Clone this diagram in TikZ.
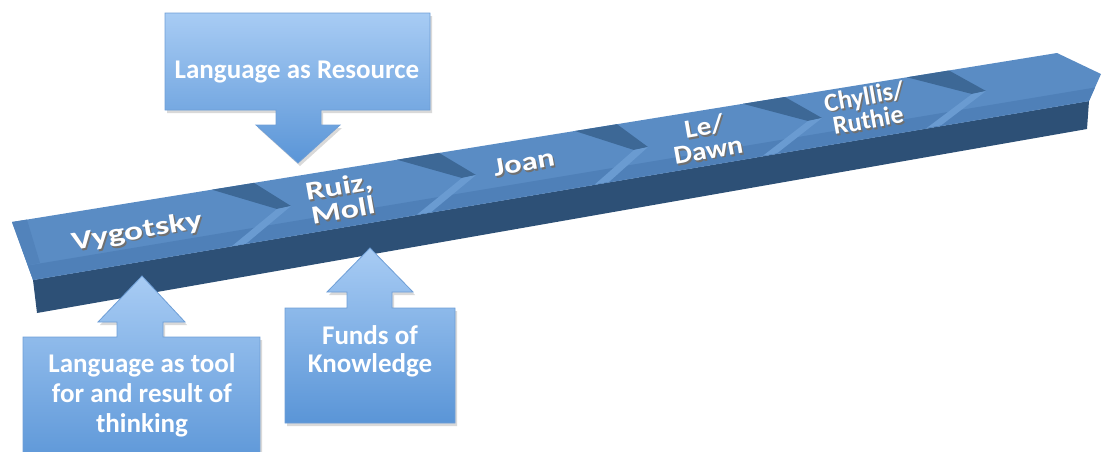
\documentclass[tikz,border=0pt]{standalone}
\usepackage{fontspec}
\setmainfont{Carlito}
\usetikzlibrary{shadows,calc}
\definecolor{face}{HTML}{5A8CC4}
\definecolor{frontc}{HTML}{2D5076}
\definecolor{bevelc}{HTML}{4F80B8}
\definecolor{leftbev}{HTML}{5283BB}
\definecolor{notchd}{HTML}{3D6896}
\definecolor{notchl}{HTML}{6A9BD1}
\definecolor{boxtop}{HTML}{A8CCF4}
\definecolor{boxbot}{HTML}{5A95D7}
\definecolor{boxline}{HTML}{6E9ED6}
\definecolor{embossc}{HTML}{707070}
\tikzset{
  callout/.style={top color=boxtop, bottom color=boxbot, draw=boxline, line width=0.8pt,
    drop shadow={shadow xshift=2pt, shadow yshift=-3pt, opacity=0.3}},
  boxtext/.style={text=white, font=\bfseries\fontsize{27}{28}\selectfont, align=center, inner sep=0pt},
  barlbl/.style={text=white, font=\bfseries\fontsize{26}{24}\selectfont, align=center, inner sep=0pt, rotate=10},
  barshadow/.style={barlbl, text=embossc},
  darkwedge/.style={fill=notchd},
  lightwedge/.style={fill=notchl},
}
\begin{document}
\begin{tikzpicture}[x=1pt,y=-1pt]
\useasboundingbox (0,0) rectangle (1104,451);
\clip (0,0) rectangle (1104,451);
% ---- bar: front face
\fill[frontc] (33,280) -- (1089,101) -- (1087,129) -- (37,313) -- cycle;
% ---- bar: top face
\fill[face] (12,222) -- (1057,53) -- (1101,74) -- (1089,101) -- (33,280) -- cycle;
% bottom bevel band and left bevel
\fill[bevelc] (33,280) -- (1089,101) -- (1095,87.5) -- (27.75,265.5) -- cycle;
\fill[leftbev] (12,222) -- (27.75,265.5) -- (40,263) -- (27,219.6) -- cycle;
% ---- notches (chevron joints)
\foreach \px/\py/\ax/\ay/\qx/\qy in {212/189.7/277/209/232/246.1,
  397/159.7/462/178/417/214.6, 575/131/634/150/595/184.3,
  743/103.8/808/121/763/155.7, 907/77.3/972/94/927/127.8}{
  \fill[darkwedge] (\px,\py) -- ++(42,-6.8) -- ($(\ax,\ay)+(14,-3)$) -- (\ax,\ay) -- cycle;
  \fill[lightwedge] (\ax,\ay) -- ($(\ax,\ay)+(14,-3)$) -- ($(\qx,\qy)+(14,-2.4)$) -- (\qx,\qy) -- cycle;
}
% ---- bar labels (embossed)
\node[barshadow, xscale=1.36] (s1) at (138.5,233.8) {Vygotsky};
\node[barlbl, xscale=1.36] (l1) at (137,232) {Vygotsky};
\node[barshadow, xscale=1.3] (s2) at (342.5,199.8) {Ruiz,\\Moll};
\node[barlbl, xscale=1.3] (l2) at (341,198) {Ruiz,\\Moll};
\node[barshadow, xscale=1.25] (s3) at (525.5,164.8) {Joan};
\node[barlbl, xscale=1.25] (l3) at (524,163) {Joan};
\node[barshadow, xscale=1.12] (s4) at (707.5,139.8) {Le/\\Dawn};
\node[barlbl, xscale=1.12] (l4) at (706,138) {Le/\\Dawn};
\node[barshadow, xscale=1.0] (s5) at (867.5,109.8) {Chyllis/\\Ruthie};
\node[barlbl, xscale=1.0] (l5) at (866,108) {Chyllis/\\Ruthie};
% ---- callouts
\path[callout] (165,13) -- (430,13) -- (430,110) -- (321,110) -- (321,125) -- (340,125)
  -- (298,163) -- (256,125) -- (276,125) -- (276,110) -- (165,110) -- cycle;
\node[boxtext] (res) at (297,72) {Language as Resource};
\path[callout] (285,423) -- (285,308) -- (347,308) -- (347,292) -- (327,292) -- (370,248)
  -- (413,292) -- (392,292) -- (392,308) -- (455,308) -- (455,423) -- cycle;
\node[boxtext] (fok) at (370,351) {Funds of\\Knowledge};
\path[callout] (23,470) -- (23,337) -- (117,337) -- (117,322) -- (98,322) -- (142,276)
  -- (185,322) -- (163,322) -- (163,337) -- (260,337) -- (260,470) -- cycle;
\node[boxtext, font=\bfseries\fontsize{27}{30}\selectfont] (tool) at (142,395) {Language as tool\\for and result of\\thinking};
\end{tikzpicture}
\end{document}
